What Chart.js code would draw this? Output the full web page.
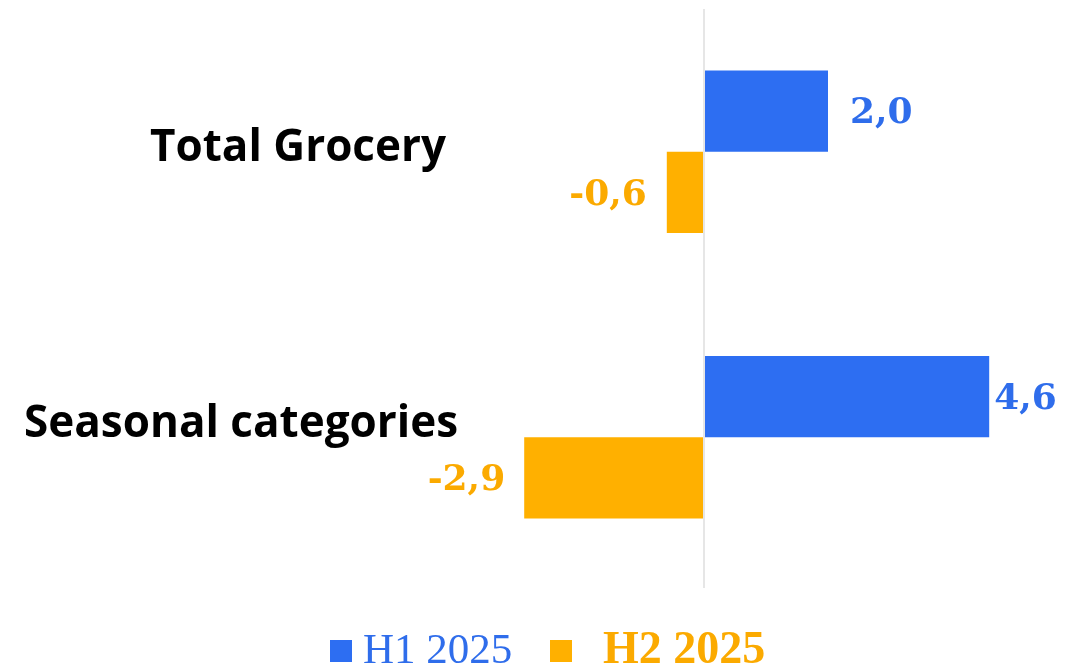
<!DOCTYPE html>
<html>
<head>
<meta charset="utf-8">
<script src="https://cdn.jsdelivr.net/npm/chart.js@4/dist/chart.umd.min.js"></script>
<style>
  html, body { margin: 0; padding: 0; background: #ffffff; }
  #wrap { width: 1071px; height: 672px; }
</style>
</head>
<body>
<div id="wrap"><canvas id="chart" width="1071" height="672"></canvas></div>
<script>
// Categories and the two half-year series
const categories = ['Total Grocery', 'Seasonal categories'];
const seriesNames = ['H1 2025', 'H2 2025'];
const h1Values = [2.0, 4.6];
const h2Values = [-0.6, -2.9];

const BLUE = '#2D6EF2';
const ORANGE = '#FFB000';

const fmt = v => v.toFixed(1).replace('.', ',');

// Category names, value labels and the legend are drawn on the canvas
const annotate = {
  id: 'annotate',
  afterDatasetsDraw(chart, args, opts) {
    const ctx = chart.ctx;
    const yScale = chart.scales.y;
    ctx.save();

    // category names to the left of the zero line
    ctx.font = 'bold 44px "Open Sans"';
    ctx.fillStyle = '#000000';
    ctx.textAlign = 'right';
    ctx.textBaseline = 'alphabetic';
    categories.forEach((c, i) => {
      ctx.fillText(c, opts.catRight[i], yScale.getPixelForValue(i) + opts.catShift[i]);
    });

    // value labels at the bar ends
    ctx.font = 'bold 36px "DejaVu Serif"';
    ctx.textBaseline = 'middle';
    chart.data.datasets.forEach((ds, di) => {
      const meta = chart.getDatasetMeta(di);
      meta.data.forEach((bar, i) => {
        const v = ds.data[i];
        const gap = opts.valueGap[di][i];
        ctx.fillStyle = ds.labelColor;
        ctx.textAlign = v >= 0 ? 'left' : 'right';
        ctx.fillText(fmt(v), bar.x + (v >= 0 ? gap : -gap), bar.y + 3);
      });
    });
    ctx.restore();
  },
  afterDraw(chart, args, opts) {
    const ctx = chart.ctx;
    const lg = opts.legend;
    ctx.save();
    ctx.textAlign = 'left';
    ctx.textBaseline = 'alphabetic';
    chart.data.datasets.forEach((ds, di) => {
      const it = lg.items[di];
      ctx.fillStyle = ds.backgroundColor;
      ctx.fillRect(it.box, lg.boxTop, lg.boxSize, lg.boxSize);
      ctx.fillStyle = ds.labelColor;
      ctx.font = it.font;
      ctx.fillText(ds.label, it.text, lg.baseline);
    });
    ctx.restore();
  }
};

new Chart(document.getElementById('chart'), {
  type: 'bar',
  data: {
    labels: categories,
    datasets: [
      { label: seriesNames[0], data: h1Values, backgroundColor: BLUE, labelColor: '#2F6DEB' },
      { label: seriesNames[1], data: h2Values, backgroundColor: ORANGE, labelColor: '#FBAA00' }
    ]
  },
  options: {
    indexAxis: 'y',
    responsive: false,
    animation: false,
    events: [],
    layout: { padding: { left: 332, right: 26, top: 9, bottom: 84 } },
    datasets: {
      bar: { barPercentage: 1.0, categoryPercentage: 0.57, borderWidth: 0 }
    },
    scales: {
      x: {
        min: -6,
        max: 5.5,
        ticks: { display: false, stepSize: 1 },
        border: { display: false },
        grid: {
          drawTicks: true,
          tickLength: 8,
          lineWidth: 2,
          color: c => (c.tick && c.tick.value === 0 ? '#E6E6E6' : 'rgba(0,0,0,0)')
        }
      },
      y: { display: false }
    },
    plugins: {
      legend: { display: false },
      tooltip: { enabled: false },
      annotate: {
        catRight: [446, 458],
        catShift: [9, 0],
        valueGap: [[22, 5], [20, 19]],
        legend: {
          boxTop: 640,
          boxSize: 22,
          baseline: 663,
          items: [
            { box: 330, text: 363, font: '43px "Liberation Serif"' },
            { box: 550, text: 603, font: 'bold 46px "Liberation Serif"' }
          ]
        }
      }
    }
  },
  plugins: [annotate]
});
</script>
</body>
</html>
